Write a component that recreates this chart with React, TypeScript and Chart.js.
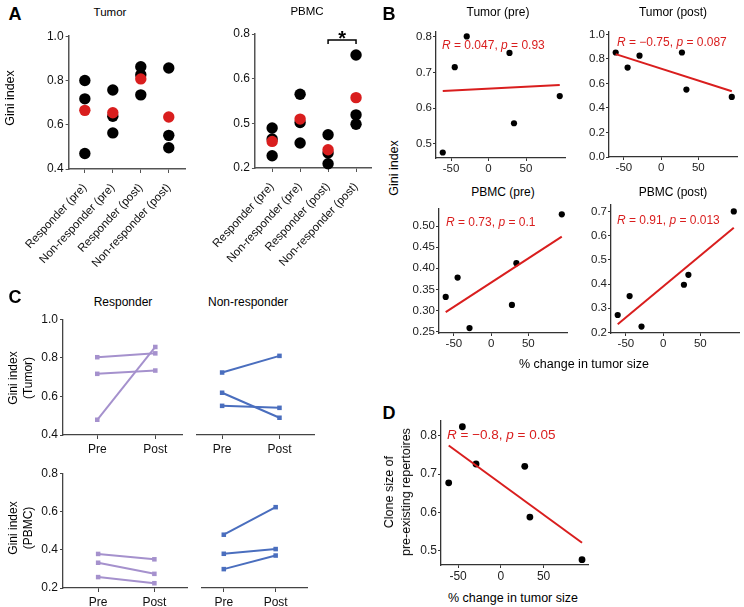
import React, { useEffect, useRef } from 'react';
import { Chart, registerables } from 'chart.js';
Chart.register(...registerables);

const FONT = 'Arial, "Liberation Sans", Helvetica, sans-serif';

// ---------- Panel A data ----------
const groupLabels = ['Responder (pre)', 'Non-responder (pre)', 'Responder (post)', 'Non-responder (post)'];
const tumorResPre = [0.80, 0.717, 0.47];
const tumorNonPre = [0.757, 0.638, 0.563];
const tumorResPost = [0.862, 0.826, 0.735];
const tumorNonPost = [0.856, 0.552, 0.496];
const tumorGroupMeans = [0.665, 0.654, 0.807, 0.635];
const pbmcResPre = [0.379, 0.33, 0.255];
const pbmcNonPre = [0.53, 0.404, 0.312];
const pbmcResPost = [0.349, 0.267, 0.219];
const pbmcNonPost = [0.706, 0.438, 0.396];
const pbmcGroupMeans = [0.319, 0.419, 0.282, 0.515];
const tumorATickValues = [0.4, 0.6, 0.8, 1.0];
const tumorATickLabels = ['0.4', '0.6', '0.8', '1.0'];
const pbmcATickValues = [0.2, 0.4, 0.6, 0.8];
const pbmcATickLabels = ['0.2', '0.5', '0.6', '0.8'];
const sigPair = [3, 4];
const sigLevel = 0.773;
const sigLabel = '*';

// ---------- Panel B / D data ----------
const tumorSizeChange = [-61, -45, -29, 28, 34, 95];
const giniTumorPre = [0.476, 0.715, 0.801, 0.755, 0.558, 0.634];
const giniTumorPost = [0.852, 0.729, 0.826, 0.852, 0.55, 0.49];
const giniPbmcPre = [0.332, 0.378, 0.258, 0.313, 0.412, 0.528];
const giniPbmcPost = [0.272, 0.35, 0.224, 0.397, 0.438, 0.70];
const cloneSizePreExisting = [0.677, 0.823, 0.726, 0.72, 0.588, 0.477];
const fitX = [-61, 95];
const fitTumorPre = [0.648, 0.665];
const fitTumorPost = [0.839, 0.536];
const fitPbmcPre = [0.296, 0.475];
const fitPbmcPost = [0.234, 0.633];
const fitClone = [0.774, 0.521];
const changeTickValues = [-50, 0, 50];
const changeTickLabels = ['-50', '0', '50'];
const tumorPreTickValues = [0.5, 0.6, 0.7, 0.8];
const tumorPreTickLabels = ['0.5', '0.6', '0.7', '0.8'];
const tumorPostTickValues = [0, 0.2, 0.4, 0.6, 0.8, 1.0];
const tumorPostTickLabels = ['0.0', '0.2', '0.4', '0.6', '0.8', '1.0'];
const pbmcPreTickValues = [0.25, 0.3, 0.35, 0.4, 0.45, 0.5];
const pbmcPreTickLabels = ['0.25', '0.30', '0.35', '0.40', '0.45', '0.50'];
const pbmcPostTickValues = [0.2, 0.3, 0.4, 0.5, 0.6, 0.7];
const pbmcPostTickLabels = ['0.2', '0.3', '0.4', '0.5', '0.6', '0.7'];
const cloneTickValues = [0.5, 0.6, 0.7, 0.8];
const cloneTickLabels = ['0.5', '0.6', '0.7', '0.8'];

// ---------- Panel C data ----------
const timepointValues = [1, 2];
const timepointLabels = ['Pre', 'Post'];
const respTumorPre = [0.803, 0.717, 0.479];
const respTumorPost = [0.823, 0.734, 0.856];
const nonTumorPre = [0.715, 0.613, 0.547];
const nonTumorPost = [0.799, 0.487, 0.537];
const respPbmcPre = [0.378, 0.332, 0.257];
const respPbmcPost = [0.35, 0.274, 0.225];
const nonPbmcPre = [0.471, 0.374, 0.296];
const nonPbmcPost = [0.611, 0.398, 0.365];
const cTumorTickValues = [0.4, 0.6, 0.8, 1.0];
const cTumorTickLabels = ['0.4', '0.6', '0.8', '1.0'];
const cPbmcTickValues = [0.2, 0.4, 0.6, 0.8];
const cPbmcTickLabels = ['0.2', '0.4', '0.6', '0.8'];

// ---------- colours ----------
const RED = '#d91e1e';
const PURPLE = '#a591cd';
const BLUE = '#4a6ebe';

type AxisDef = {
  min: number; max: number; values: number[]; labels: string[];
  display?: boolean; rotate?: number; fontSize?: number; tickLen?: number; pad?: number;
};
type AxisStyle = { color: string; width: number; text: string; fontSize: number };

function mkScale(a: AxisDef, horiz: boolean, size: number, st: AxisStyle) {
  const tl = a.tickLen ?? 3;
  return {
    type: 'linear',
    position: horiz ? 'bottom' : 'left',
    display: a.display !== false,
    min: a.min,
    max: a.max,
    afterBuildTicks: (s: any) => { s.ticks = a.values.map((v) => ({ value: v })); },
    afterFit: (s: any) => { if (horiz) s.height = size; else s.width = size; },
    ticks: {
      autoSkip: false,
      minRotation: a.rotate ?? 0,
      maxRotation: a.rotate ?? 0,
      padding: a.pad ?? 2,
      color: st.text,
      font: { family: FONT, size: a.fontSize ?? st.fontSize },
      callback: (_v: any, i: number) => a.labels[i],
    },
    grid: { drawOnChartArea: false, drawTicks: tl > 0, tickLength: tl, color: st.color, lineWidth: 1 },
    border: { display: true, color: st.color, width: st.width },
  };
}

type PlotProps = {
  box: [number, number, number, number]; // L, T, R, B of plot area
  yW: number; xH: number; padTop?: number; padRight?: number;
  x: AxisDef; y: AxisDef; datasets: any[]; axis: AxisStyle; extra?: any;
};

function Plot(p: PlotProps) {
  const ref = useRef<HTMLCanvasElement | null>(null);
  const [L, T, R, B] = p.box.map((v) => Math.round(v));
  const padTop = p.padTop ?? 6;
  const padRight = p.padRight ?? 6;
  const yw = p.y.display === false ? 0 : p.yW;
  const left = L - yw;
  const top = T - padTop;
  const width = R - L + yw + padRight;
  const height = B - T + padTop + p.xH;
  useEffect(() => {
    const c = ref.current;
    if (!c) return;
    const chart = new Chart(c, {
      type: 'scatter',
      data: { datasets: p.datasets },
      options: {
        animation: false,
        responsive: false,
        maintainAspectRatio: false,
        events: [],
        layout: { padding: { top: padTop, right: padRight, left: 0, bottom: 0 } },
        plugins: { legend: { display: false }, tooltip: { enabled: false } },
        scales: {
          x: mkScale(p.x, true, p.xH, p.axis) as any,
          y: mkScale(p.y, false, yw, p.axis) as any,
        },
      },
      plugins: p.extra ? [p.extra] : [],
    } as any);
    return () => chart.destroy();
  }, []);
  return (
    <canvas
      ref={ref}
      width={width}
      height={height}
      style={{ position: 'absolute', left, top, width, height }}
    />
  );
}

function Txt(props: {
  x: number; y: number; size: number; children: React.ReactNode; bold?: boolean;
  rotate?: number; align?: 'center' | 'left'; color?: string; lh?: number;
}) {
  const { x, y, size, children, bold, rotate, align = 'center', color = '#000', lh } = props;
  const tx = align === 'center' ? '-50%' : '0';
  return (
    <div
      style={{
        position: 'absolute', left: x, top: y,
        transform: `translate(${tx}, -50%)${rotate ? ` rotate(${rotate}deg)` : ''}`,
        fontFamily: FONT, fontSize: size, fontWeight: bold ? 'bold' : 'normal',
        whiteSpace: 'pre', lineHeight: lh ? `${lh}px` : 1, textAlign: 'center', color,
      }}
    >
      {children}
    </div>
  );
}

const dotGroups = (groups: number[][]) => groups.flatMap((g, i) => g.map((v) => ({ x: i + 1, y: v })));
const meanDots = (m: number[]) => m.map((v, i) => ({ x: i + 1, y: v }));
const pairs = (xs: number[], ys: number[]) => xs.map((x, i) => ({ x, y: ys[i] }));

const groupDatasets = (groups: number[][], means: number[]) => [
  { data: meanDots(means), pointRadius: 5.7, pointBackgroundColor: RED, pointBorderWidth: 0, clip: false },
  { data: dotGroups(groups), pointRadius: 5.7, pointBackgroundColor: '#000', pointBorderWidth: 0, clip: false },
];

const corrDatasets = (ys: number[], fit: number[], r: number) => [
  { data: pairs(fitX, fit), showLine: true, borderColor: RED, borderWidth: 2, pointRadius: 0, clip: false },
  { data: pairs(tumorSizeChange, ys), pointRadius: r, pointBackgroundColor: '#000', pointBorderWidth: 0, clip: false },
];

const lineDatasets = (pre: number[], post: number[], color: string) =>
  pre.map((v, i) => ({
    data: [{ x: timepointValues[0], y: v }, { x: timepointValues[1], y: post[i] }],
    showLine: true, borderColor: color, borderWidth: 2,
    pointStyle: 'rect', pointRadius: 3.2, pointBackgroundColor: color, pointBorderWidth: 0, clip: false,
  }));

const sigBracket = {
  id: 'sigBracket',
  afterDatasetsDraw(chart: any) {
    const { ctx, scales } = chart;
    const x1 = scales.x.getPixelForValue(sigPair[0]);
    const x2 = scales.x.getPixelForValue(sigPair[1]);
    const yb = scales.y.getPixelForValue(sigLevel);
    ctx.save();
    ctx.strokeStyle = '#000';
    ctx.lineWidth = 1.5;
    ctx.beginPath();
    ctx.moveTo(x1, yb + 4);
    ctx.lineTo(x1, yb);
    ctx.lineTo(x2, yb);
    ctx.lineTo(x2, yb + 4);
    ctx.stroke();
    ctx.fillStyle = '#000';
    ctx.font = `bold 20px ${FONT}`;
    ctx.textAlign = 'center';
    ctx.textBaseline = 'alphabetic';
    ctx.fillText(sigLabel, (x1 + x2) / 2, yb + 5);
    ctx.restore();
  },
};

const styleA: AxisStyle = { color: '#555', width: 1.5, text: '#111', fontSize: 12 };
const styleB: AxisStyle = { color: '#333', width: 1.3, text: '#222', fontSize: 11.5 };
const styleC: AxisStyle = { color: '#444', width: 1.3, text: '#111', fontSize: 12 };
const styleD: AxisStyle = { color: '#333', width: 1.3, text: '#222', fontSize: 12 };

const changeAxis: AxisDef = { min: -70, max: 102, values: changeTickValues, labels: changeTickLabels, tickLen: 3, pad: 1 };

function RText({ x, y, r, p, size }: { x: number; y: number; r: string; p: string; size: number }) {
  return (
    <Txt x={x} y={y} size={size} align="left" color={RED}>
      <i>R</i>{` = ${r}, `}<i>p</i>{` = ${p}`}
    </Txt>
  );
}

export default function App() {
  return (
    <div style={{ position: 'absolute', left: 0, top: 0, width: 744, height: 607, background: '#fff', overflow: 'hidden' }}>
      {/* ---------- A ---------- */}
      <Plot
        box={[49, 35, 185, 169]} yW={34} xH={118} padTop={8}
        axis={styleA}
        x={{ min: 0.42, max: 4.58, values: [1, 2, 3, 4], labels: groupLabels, rotate: 47, fontSize: 11.5, tickLen: 4, pad: 8 }}
        y={{ min: 0.4, max: 1.0, values: tumorATickValues, labels: tumorATickLabels, tickLen: 3, pad: 2 }}
        datasets={groupDatasets([tumorResPre, tumorNonPre, tumorResPost, tumorNonPost], tumorGroupMeans)}
      />
      <Plot
        box={[236, 34, 371, 168]} yW={34} xH={118} padTop={20}
        axis={styleA}
        x={{ min: 0.385, max: 4.535, values: [1, 2, 3, 4], labels: groupLabels, rotate: 47, fontSize: 11.5, tickLen: 4, pad: 8 }}
        y={{ min: 0.2, max: 0.8, values: pbmcATickValues, labels: pbmcATickLabels, tickLen: 3, pad: 2 }}
        datasets={groupDatasets([pbmcResPre, pbmcNonPre, pbmcResPost, pbmcNonPost], pbmcGroupMeans)}
        extra={sigBracket}
      />
      <Txt x={15} y={14} size={18} bold>A</Txt>
      <Txt x={110} y={13} size={11.5}>Tumor</Txt>
      <Txt x={307} y={12} size={11.5}>PBMC</Txt>
      <Txt x={10} y={98} size={12.5} rotate={-90}>Gini index</Txt>

      {/* ---------- B ---------- */}
      <Plot
        box={[436, 30, 565, 158]} yW={30} xH={24} axis={styleB}
        x={changeAxis}
        y={{ min: 0.4606, max: 0.8138, values: tumorPreTickValues, labels: tumorPreTickLabels, tickLen: 3, pad: 1 }}
        datasets={corrDatasets(giniTumorPre, fitTumorPre, 3.1)}
      />
      <Plot
        box={[609, 30, 737, 157]} yW={30} xH={24} axis={styleB}
        x={changeAxis}
        y={{ min: 0, max: 1.02, values: tumorPostTickValues, labels: tumorPostTickLabels, tickLen: 3, pad: 1 }}
        datasets={corrDatasets(giniTumorPost, fitTumorPost, 3.1)}
      />
      <Plot
        box={[439, 207, 567, 333]} yW={36} xH={24} axis={styleB}
        x={changeAxis}
        y={{ min: 0.2463, max: 0.541, values: pbmcPreTickValues, labels: pbmcPreTickLabels, tickLen: 3, pad: 1 }}
        datasets={corrDatasets(giniPbmcPre, fitPbmcPre, 3.1)}
      />
      <Plot
        box={[611, 203, 740, 333]} yW={30} xH={24} padRight={3} axis={styleB}
        x={changeAxis}
        y={{ min: 0.1976, max: 0.727, values: pbmcPostTickValues, labels: pbmcPostTickLabels, tickLen: 3, pad: 1 }}
        datasets={corrDatasets(giniPbmcPost, fitPbmcPost, 3.1)}
      />
      <Txt x={389} y={14} size={18} bold>B</Txt>
      <Txt x={498} y={12} size={12}>Tumor (pre)</Txt>
      <Txt x={673} y={12} size={12}>Tumor (post)</Txt>
      <Txt x={503} y={192} size={12}>PBMC (pre)</Txt>
      <Txt x={673} y={192} size={12}>PBMC (post)</Txt>
      <Txt x={394} y={168} size={12.5} rotate={-90}>Gini index</Txt>
      <Txt x={584} y={364} size={12.5}>% change in tumor size</Txt>
      <RText x={442} y={45} r="0.047" p="0.93" size={12} />
      <RText x={617} y={42} r="−0.75" p="0.087" size={12} />
      <RText x={446} y={222} r="0.73" p="0.1" size={12} />
      <RText x={617} y={220} r="0.91" p="0.013" size={12} />

      {/* ---------- C ---------- */}
      <Plot
        box={[63, 316, 182, 435]} yW={30} xH={26} axis={styleC}
        x={{ min: 0.41, max: 2.46, values: timepointValues, labels: timepointLabels, tickLen: 4, pad: 3 }}
        y={{ min: 0.4, max: 1.0, values: cTumorTickValues, labels: cTumorTickLabels, tickLen: 3, pad: 2 }}
        datasets={lineDatasets(respTumorPre, respTumorPost, PURPLE)}
      />
      <Plot
        box={[193, 316, 314, 435]} yW={0} xH={26} axis={styleC}
        x={{ min: 0.562, max: 2.602, values: timepointValues, labels: timepointLabels, tickLen: 4, pad: 3 }}
        y={{ min: 0.4, max: 1.0, values: cTumorTickValues, labels: cTumorTickLabels, display: false }}
        datasets={lineDatasets(nonTumorPre, nonTumorPost, BLUE)}
      />
      <Plot
        box={[63, 470, 187, 588]} yW={30} xH={19} axis={styleC}
        x={{ min: 0.375, max: 2.58, values: timepointValues, labels: timepointLabels, tickLen: 4, pad: 3 }}
        y={{ min: 0.2, max: 0.8, values: cPbmcTickValues, labels: cPbmcTickLabels, tickLen: 3, pad: 2 }}
        datasets={lineDatasets(respPbmcPre, respPbmcPost, PURPLE)}
      />
      <Plot
        box={[198, 470, 307, 588]} yW={0} xH={19} axis={styleC}
        x={{ min: 0.58, max: 2.604, values: timepointValues, labels: timepointLabels, tickLen: 4, pad: 3 }}
        y={{ min: 0.2, max: 0.8, values: cPbmcTickValues, labels: cPbmcTickLabels, display: false }}
        datasets={lineDatasets(nonPbmcPre, nonPbmcPost, BLUE)}
      />
      <Txt x={15} y={297} size={18} bold>C</Txt>
      <Txt x={123} y={302} size={12}>Responder</Txt>
      <Txt x={248} y={302} size={12}>Non-responder</Txt>
      <Txt x={21} y={378} size={12} rotate={-90} lh={15}>{'Gini index\n(Tumor)'}</Txt>
      <Txt x={21} y={528} size={12} rotate={-90} lh={15}>{'Gini index\n(PBMC)'}</Txt>

      {/* ---------- D ---------- */}
      <Plot
        box={[441, 418, 588, 565]} yW={30} xH={24} axis={styleD}
        x={{ ...changeAxis, fontSize: 12 }}
        y={{ min: 0.4632, max: 0.84, values: cloneTickValues, labels: cloneTickLabels, tickLen: 3, pad: 1 }}
        datasets={corrDatasets(cloneSizePreExisting, fitClone, 3.4)}
      />
      <Txt x={389} y={413} size={18} bold>D</Txt>
      <Txt x={398} y={492} size={12.5} rotate={-90} lh={17}>{'Clone size of\npre-existing repertoires'}</Txt>
      <Txt x={513} y={598} size={12.5}>% change in tumor size</Txt>
      <RText x={447} y={435} r="−0.8" p="0.05" size={13.5} />
    </div>
  );
}
